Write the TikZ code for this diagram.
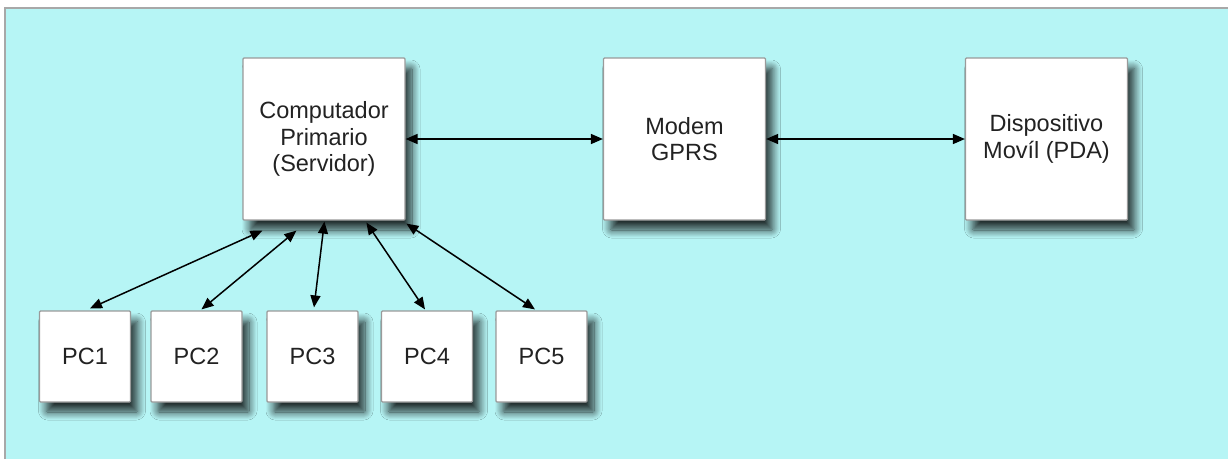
\documentclass[tikz,border=0pt]{standalone}
\usepackage{fontspec}
\setmainfont{Liberation Sans}
\usetikzlibrary{arrows.meta,shadows.blur}
\definecolor{panelbg}{HTML}{B6F5F5}
\definecolor{panelrule}{HTML}{A8A8A8}
\definecolor{boxrule}{HTML}{9A9A9A}
\definecolor{labeltext}{HTML}{222222}
\tikzset{
  unit/.style={draw=boxrule, line width=1.2pt, fill=white, rounded corners=1pt,
    inner sep=0pt, align=center, text=labeltext,
    font=\fontsize{23.5}{26.5}\selectfont,
    blur shadow={shadow xshift=7pt, shadow yshift=-10pt,
      shadow blur radius=8pt, shadow blur steps=12, shadow opacity=80}},
  bigunit/.style={unit, minimum width=162pt, minimum height=162pt},
  pcunit/.style={unit, minimum width=91pt, minimum height=91pt},
  link/.style={line width=1.5pt, black,
    {Triangle[length=12pt,width=10pt]}-{Triangle[length=12pt,width=10pt]}}
}
\begin{document}
\begin{tikzpicture}[x=1pt,y=-1pt]
  \useasboundingbox (0,0) rectangle (1228,459);
  % panel
  \fill[white] (0,0) rectangle (1228,459);
  \fill[panelbg] (5,8) rectangle (1228,459);
  \draw[panelrule, line width=2pt] (5,459) -- (5,8) -- (1228,8);

  % main chain
  \node[bigunit] (srv)   at (324,139)    {Computador\\Primario\\(Servidor)};
  \node[bigunit] (modem) at (684.5,139)  {Modem\\GPRS};
  \node[bigunit] (pda)   at (1046.5,139) {Dispositivo\\Movíl (PDA)};

  % workstations
  \node[pcunit] (pc1) at (85,356.5)    {PC1};
  \node[pcunit] (pc2) at (196.5,356.5) {PC2};
  \node[pcunit] (pc3) at (312.5,356.5) {PC3};
  \node[pcunit] (pc4) at (427,356.5)   {PC4};
  \node[pcunit] (pc5) at (541.5,356.5) {PC5};

  % attachment points under the server
  \coordinate (s1) at ([shift={(20,10)}]srv.south west);
  \coordinate (s2) at ([shift={(54,10)}]srv.south west);
  \coordinate (s3) at ([shift={(82,1)}]srv.south west);
  \coordinate (s4) at ([shift={(124,2)}]srv.south west);
  \coordinate (s5) at ([shift={(164,3)}]srv.south west);
  % attachment points above the workstations
  \coordinate (t1) at ([shift={(5,-2)}]pc1.north);
  \coordinate (t2) at ([shift={(5,-1)}]pc2.north);
  \coordinate (t3) at ([shift={(1.5,-3)}]pc3.north);
  \coordinate (t4) at ([shift={(-2,-1)}]pc4.north);
  \coordinate (t5) at ([shift={(-6.5,-1)}]pc5.north);

  % connectors
  \draw[link] (srv.east) -- (modem.west);
  \draw[link] (modem.east) -- (pda.west);
  \draw[link] (s1) -- (t1);
  \draw[link] (s2) -- (t2);
  \draw[link] (s3) -- (t3);
  \draw[link] (s4) -- (t4);
  \draw[link] (s5) -- (t5);
\end{tikzpicture}
\end{document}
